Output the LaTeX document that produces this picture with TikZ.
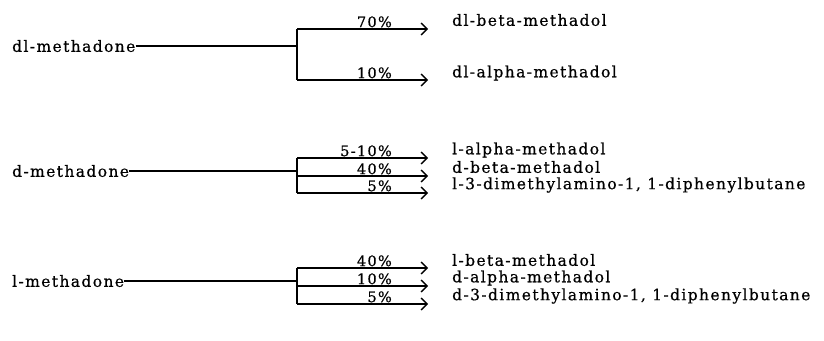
\documentclass[tikz,border=0pt]{standalone}
\usepackage{fontspec}
\setmainfont{DejaVu Serif}[LetterSpace=9,FakeBold=0.6]
\usetikzlibrary{arrows.meta}
\begin{document}
\begin{tikzpicture}[x=1pt,y=-1pt,
  txt/.style={anchor=west,inner sep=0pt,font=\fontsize{15.5}{17}\selectfont},
  pct/.style={anchor=south east,inner sep=0pt,font=\fontsize{14.5}{16}\selectfont},
  wire/.style={line width=1.5pt},
  arr/.style={line width=1.5pt,-{Straight Barb[length=6pt,width=12pt,line width=1.4pt]}}]
\useasboundingbox (0,0) rectangle (824,340);

% dl-methadone
\node[txt] (s1) at (12,46) {dl-methadone};
\coordinate (j1) at (297,46);
\coordinate (a11) at (297,29);  \coordinate (e11) at (428,29);
\coordinate (a12) at (297,80);  \coordinate (e12) at (428,80);
\node[txt] (t11) at (452,20) {dl-beta-methadol};
\node[txt] (t12) at (452,73) {dl-alpha-methadol};
\draw[wire] (s1.east) -- (j1);
\draw[wire] (a11) -- (a12);
\draw[arr] (a11) -- (e11);
\draw[arr] (a12) -- (e12);
\node[pct] (p11) at (392,27.5) {70\%};
\node[pct] (p12) at (392,78.5) {10\%};

% d-methadone
\node[txt] (s2) at (12,171) {d-methadone};
\coordinate (j2) at (297,171);
\coordinate (a21) at (297,158);  \coordinate (e21) at (428,158);
\coordinate (a22) at (297,176);  \coordinate (e22) at (428,176);
\coordinate (a23) at (297,193);  \coordinate (e23) at (428,193);
\node[txt] (t21) at (452,150) {l-alpha-methadol};
\node[txt] (t22) at (452,167) {d-beta-methadol};
\node[txt] (t23) at (452,185) {l-3-dimethylamino-1, 1-diphenylbutane};
\draw[wire] (s2.east) -- (j2);
\draw[wire] (a21) -- (a23);
\draw[arr] (a21) -- (e21);
\draw[arr] (a22) -- (e22);
\draw[arr] (a23) -- (e23);
\node[pct] (p21) at (392,156.5) {5-10\%};
\node[pct] (p22) at (392,174.5) {40\%};
\node[pct] (p23) at (392,191.5) {5\%};

% l-methadone
\node[txt] (s3) at (12,281) {l-methadone};
\coordinate (j3) at (297,281);
\coordinate (a31) at (297,268);  \coordinate (e31) at (428,268);
\coordinate (a32) at (297,286);  \coordinate (e32) at (428,286);
\coordinate (a33) at (297,304);  \coordinate (e33) at (428,304);
\node[txt] (t31) at (452,260) {l-beta-methadol};
\node[txt] (t32) at (452,278) {d-alpha-methadol};
\node[txt] (t33) at (452,296) {d-3-dimethylamino-1, 1-diphenylbutane};
\draw[wire] (s3.east) -- (j3);
\draw[wire] (a31) -- (a33);
\draw[arr] (a31) -- (e31);
\draw[arr] (a32) -- (e32);
\draw[arr] (a33) -- (e33);
\node[pct] (p31) at (392,266.5) {40\%};
\node[pct] (p32) at (392,284.5) {10\%};
\node[pct] (p33) at (392,302.5) {5\%};
\end{tikzpicture}
\end{document}
